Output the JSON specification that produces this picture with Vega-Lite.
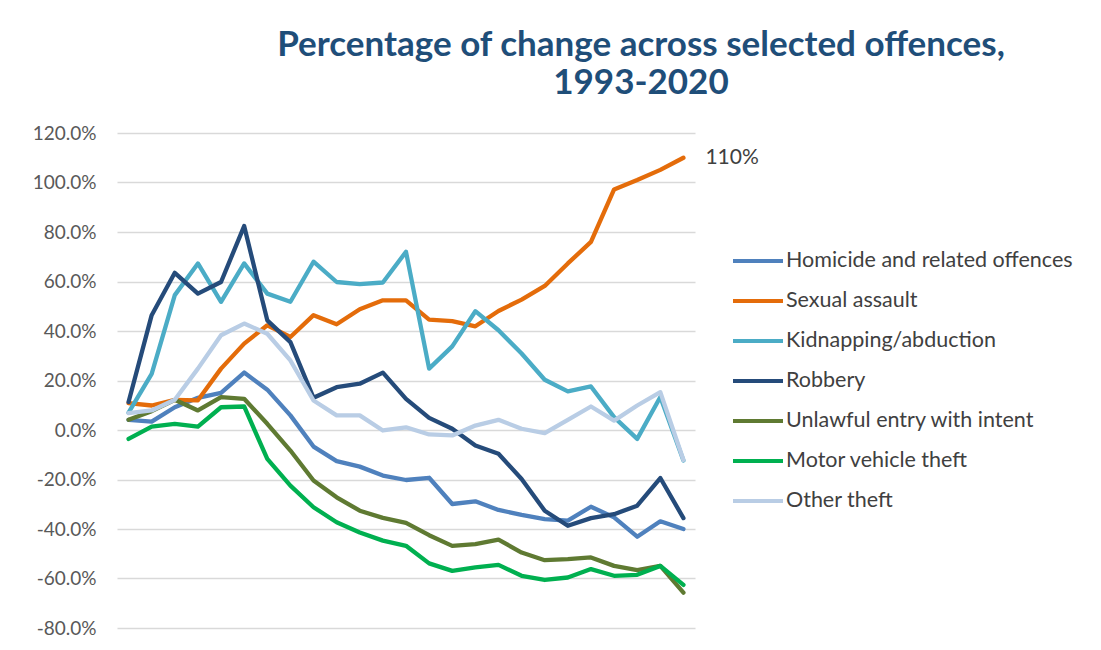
{
 "$schema": "https://vega.github.io/schema/vega-lite/v6.json",
 "width": 578, "height": 495,
 "autosize": {"type": "none"},
 "padding": {"left": 117, "top": 133, "right": 406, "bottom": 22},
 "background": "white",
 "config": {"view": {"stroke": null}, "font": "Lato"},
 "title": {"text": ["Percentage of change across selected offences,", "1993-2020"], "font": "Lato", "fontSize": 35, "fontWeight": "bold", "color": "#1F4E79", "anchor": "middle", "frame": "group", "dx": 235, "offset": 23, "lineHeight": 38},
 "data": {"values": [
{"offence":"Homicide and related offences","year":1996,"change":0.041},
{"offence":"Homicide and related offences","year":1997,"change":0.034},
{"offence":"Homicide and related offences","year":1998,"change":0.092},
{"offence":"Homicide and related offences","year":1999,"change":0.13},
{"offence":"Homicide and related offences","year":2000,"change":0.15},
{"offence":"Homicide and related offences","year":2001,"change":0.232},
{"offence":"Homicide and related offences","year":2002,"change":0.163},
{"offence":"Homicide and related offences","year":2003,"change":0.059},
{"offence":"Homicide and related offences","year":2004,"change":-0.067},
{"offence":"Homicide and related offences","year":2005,"change":-0.126},
{"offence":"Homicide and related offences","year":2006,"change":-0.148},
{"offence":"Homicide and related offences","year":2007,"change":-0.184},
{"offence":"Homicide and related offences","year":2008,"change":-0.202},
{"offence":"Homicide and related offences","year":2009,"change":-0.193},
{"offence":"Homicide and related offences","year":2010,"change":-0.299},
{"offence":"Homicide and related offences","year":2011,"change":-0.288},
{"offence":"Homicide and related offences","year":2012,"change":-0.323},
{"offence":"Homicide and related offences","year":2013,"change":-0.343},
{"offence":"Homicide and related offences","year":2014,"change":-0.36},
{"offence":"Homicide and related offences","year":2015,"change":-0.366},
{"offence":"Homicide and related offences","year":2016,"change":-0.31},
{"offence":"Homicide and related offences","year":2017,"change":-0.353},
{"offence":"Homicide and related offences","year":2018,"change":-0.431},
{"offence":"Homicide and related offences","year":2019,"change":-0.369},
{"offence":"Homicide and related offences","year":2020,"change":-0.40},
{"offence":"Sexual assault","year":1996,"change":0.109},
{"offence":"Sexual assault","year":1997,"change":0.099},
{"offence":"Sexual assault","year":1998,"change":0.122},
{"offence":"Sexual assault","year":1999,"change":0.12},
{"offence":"Sexual assault","year":2000,"change":0.248},
{"offence":"Sexual assault","year":2001,"change":0.349},
{"offence":"Sexual assault","year":2002,"change":0.423},
{"offence":"Sexual assault","year":2003,"change":0.376},
{"offence":"Sexual assault","year":2004,"change":0.464},
{"offence":"Sexual assault","year":2005,"change":0.427},
{"offence":"Sexual assault","year":2006,"change":0.488},
{"offence":"Sexual assault","year":2007,"change":0.524},
{"offence":"Sexual assault","year":2008,"change":0.524},
{"offence":"Sexual assault","year":2009,"change":0.446},
{"offence":"Sexual assault","year":2010,"change":0.44},
{"offence":"Sexual assault","year":2011,"change":0.419},
{"offence":"Sexual assault","year":2012,"change":0.481},
{"offence":"Sexual assault","year":2013,"change":0.527},
{"offence":"Sexual assault","year":2014,"change":0.582},
{"offence":"Sexual assault","year":2015,"change":0.673},
{"offence":"Sexual assault","year":2016,"change":0.76},
{"offence":"Sexual assault","year":2017,"change":0.972},
{"offence":"Sexual assault","year":2018,"change":1.01},
{"offence":"Sexual assault","year":2019,"change":1.051},
{"offence":"Sexual assault","year":2020,"change":1.10},
{"offence":"Kidnapping/abduction","year":1996,"change":0.07},
{"offence":"Kidnapping/abduction","year":1997,"change":0.227},
{"offence":"Kidnapping/abduction","year":1998,"change":0.545},
{"offence":"Kidnapping/abduction","year":1999,"change":0.673},
{"offence":"Kidnapping/abduction","year":2000,"change":0.518},
{"offence":"Kidnapping/abduction","year":2001,"change":0.673},
{"offence":"Kidnapping/abduction","year":2002,"change":0.551},
{"offence":"Kidnapping/abduction","year":2003,"change":0.518},
{"offence":"Kidnapping/abduction","year":2004,"change":0.68},
{"offence":"Kidnapping/abduction","year":2005,"change":0.598},
{"offence":"Kidnapping/abduction","year":2006,"change":0.589},
{"offence":"Kidnapping/abduction","year":2007,"change":0.596},
{"offence":"Kidnapping/abduction","year":2008,"change":0.72},
{"offence":"Kidnapping/abduction","year":2009,"change":0.248},
{"offence":"Kidnapping/abduction","year":2010,"change":0.338},
{"offence":"Kidnapping/abduction","year":2011,"change":0.48},
{"offence":"Kidnapping/abduction","year":2012,"change":0.403},
{"offence":"Kidnapping/abduction","year":2013,"change":0.309},
{"offence":"Kidnapping/abduction","year":2014,"change":0.203},
{"offence":"Kidnapping/abduction","year":2015,"change":0.156},
{"offence":"Kidnapping/abduction","year":2016,"change":0.176},
{"offence":"Kidnapping/abduction","year":2017,"change":0.052},
{"offence":"Kidnapping/abduction","year":2018,"change":-0.036},
{"offence":"Kidnapping/abduction","year":2019,"change":0.133},
{"offence":"Kidnapping/abduction","year":2020,"change":-0.123},
{"offence":"Robbery","year":1996,"change":0.113},
{"offence":"Robbery","year":1997,"change":0.464},
{"offence":"Robbery","year":1998,"change":0.635},
{"offence":"Robbery","year":1999,"change":0.551},
{"offence":"Robbery","year":2000,"change":0.598},
{"offence":"Robbery","year":2001,"change":0.824},
{"offence":"Robbery","year":2002,"change":0.443},
{"offence":"Robbery","year":2003,"change":0.355},
{"offence":"Robbery","year":2004,"change":0.13},
{"offence":"Robbery","year":2005,"change":0.173},
{"offence":"Robbery","year":2006,"change":0.187},
{"offence":"Robbery","year":2007,"change":0.232},
{"offence":"Robbery","year":2008,"change":0.126},
{"offence":"Robbery","year":2009,"change":0.049},
{"offence":"Robbery","year":2010,"change":0.005},
{"offence":"Robbery","year":2011,"change":-0.063},
{"offence":"Robbery","year":2012,"change":-0.096},
{"offence":"Robbery","year":2013,"change":-0.198},
{"offence":"Robbery","year":2014,"change":-0.326},
{"offence":"Robbery","year":2015,"change":-0.387},
{"offence":"Robbery","year":2016,"change":-0.356},
{"offence":"Robbery","year":2017,"change":-0.34},
{"offence":"Robbery","year":2018,"change":-0.306},
{"offence":"Robbery","year":2019,"change":-0.194},
{"offence":"Robbery","year":2020,"change":-0.356},
{"offence":"Unlawful entry with intent","year":1996,"change":0.041},
{"offence":"Unlawful entry with intent","year":1997,"change":0.076},
{"offence":"Unlawful entry with intent","year":1998,"change":0.122},
{"offence":"Unlawful entry with intent","year":1999,"change":0.079},
{"offence":"Unlawful entry with intent","year":2000,"change":0.133},
{"offence":"Unlawful entry with intent","year":2001,"change":0.126},
{"offence":"Unlawful entry with intent","year":2002,"change":0.025},
{"offence":"Unlawful entry with intent","year":2003,"change":-0.083},
{"offence":"Unlawful entry with intent","year":2004,"change":-0.204},
{"offence":"Unlawful entry with intent","year":2005,"change":-0.272},
{"offence":"Unlawful entry with intent","year":2006,"change":-0.326},
{"offence":"Unlawful entry with intent","year":2007,"change":-0.355},
{"offence":"Unlawful entry with intent","year":2008,"change":-0.375},
{"offence":"Unlawful entry with intent","year":2009,"change":-0.425},
{"offence":"Unlawful entry with intent","year":2010,"change":-0.468},
{"offence":"Unlawful entry with intent","year":2011,"change":-0.461},
{"offence":"Unlawful entry with intent","year":2012,"change":-0.443},
{"offence":"Unlawful entry with intent","year":2013,"change":-0.495},
{"offence":"Unlawful entry with intent","year":2014,"change":-0.526},
{"offence":"Unlawful entry with intent","year":2015,"change":-0.522},
{"offence":"Unlawful entry with intent","year":2016,"change":-0.515},
{"offence":"Unlawful entry with intent","year":2017,"change":-0.549},
{"offence":"Unlawful entry with intent","year":2018,"change":-0.566},
{"offence":"Unlawful entry with intent","year":2019,"change":-0.549},
{"offence":"Unlawful entry with intent","year":2020,"change":-0.657},
{"offence":"Motor vehicle theft","year":1996,"change":-0.036},
{"offence":"Motor vehicle theft","year":1997,"change":0.014},
{"offence":"Motor vehicle theft","year":1998,"change":0.025},
{"offence":"Motor vehicle theft","year":1999,"change":0.014},
{"offence":"Motor vehicle theft","year":2000,"change":0.092},
{"offence":"Motor vehicle theft","year":2001,"change":0.095},
{"offence":"Motor vehicle theft","year":2002,"change":-0.117},
{"offence":"Motor vehicle theft","year":2003,"change":-0.225},
{"offence":"Motor vehicle theft","year":2004,"change":-0.312},
{"offence":"Motor vehicle theft","year":2005,"change":-0.373},
{"offence":"Motor vehicle theft","year":2006,"change":-0.414},
{"offence":"Motor vehicle theft","year":2007,"change":-0.447},
{"offence":"Motor vehicle theft","year":2008,"change":-0.468},
{"offence":"Motor vehicle theft","year":2009,"change":-0.539},
{"offence":"Motor vehicle theft","year":2010,"change":-0.569},
{"offence":"Motor vehicle theft","year":2011,"change":-0.555},
{"offence":"Motor vehicle theft","year":2012,"change":-0.545},
{"offence":"Motor vehicle theft","year":2013,"change":-0.589},
{"offence":"Motor vehicle theft","year":2014,"change":-0.606},
{"offence":"Motor vehicle theft","year":2015,"change":-0.596},
{"offence":"Motor vehicle theft","year":2016,"change":-0.562},
{"offence":"Motor vehicle theft","year":2017,"change":-0.589},
{"offence":"Motor vehicle theft","year":2018,"change":-0.585},
{"offence":"Motor vehicle theft","year":2019,"change":-0.549},
{"offence":"Motor vehicle theft","year":2020,"change":-0.626},
{"offence":"Other theft","year":1996,"change":0.068},
{"offence":"Other theft","year":1997,"change":0.079},
{"offence":"Other theft","year":1998,"change":0.122},
{"offence":"Other theft","year":1999,"change":0.248},
{"offence":"Other theft","year":2000,"change":0.383},
{"offence":"Other theft","year":2001,"change":0.43},
{"offence":"Other theft","year":2002,"change":0.389},
{"offence":"Other theft","year":2003,"change":0.281},
{"offence":"Other theft","year":2004,"change":0.119},
{"offence":"Other theft","year":2005,"change":0.059},
{"offence":"Other theft","year":2006,"change":0.059},
{"offence":"Other theft","year":2007,"change":-0.002},
{"offence":"Other theft","year":2008,"change":0.011},
{"offence":"Other theft","year":2009,"change":-0.018},
{"offence":"Other theft","year":2010,"change":-0.022},
{"offence":"Other theft","year":2011,"change":0.018},
{"offence":"Other theft","year":2012,"change":0.041},
{"offence":"Other theft","year":2013,"change":0.005},
{"offence":"Other theft","year":2014,"change":-0.013},
{"offence":"Other theft","year":2015,"change":0.041},
{"offence":"Other theft","year":2016,"change":0.095},
{"offence":"Other theft","year":2017,"change":0.038},
{"offence":"Other theft","year":2018,"change":0.099},
{"offence":"Other theft","year":2019,"change":0.153},
{"offence":"Other theft","year":2020,"change":-0.121}
 ]},
 "layer": [
  {
   "mark": {"type": "line", "strokeWidth": 4.3, "strokeJoin": "round", "strokeCap": "round"},
   "encoding": {
    "x": {"field": "year", "type": "ordinal", "axis": null, "scale": {"padding": 0.5}},
    "y": {"field": "change", "type": "quantitative", "scale": {"domain": [-0.8, 1.2], "nice": false, "zero": false},
          "axis": {"title": null, "values": [-0.8, -0.6, -0.4, -0.2, 0, 0.2, 0.4, 0.6, 0.8, 1.0, 1.2], "format": ".1%", "labelExpr": "replace(datum.label, '\u2212', '-')", "domain": false, "ticks": false, "labelPadding": 21, "labelFontSize": 19, "labelFont": "Lato", "labelColor": "#595959", "gridColor": "#D9D9D9", "gridWidth": 1.5}},
    "color": {"field": "offence", "type": "nominal",
      "scale": {"domain": ["Homicide and related offences", "Sexual assault", "Kidnapping/abduction", "Robbery", "Unlawful entry with intent", "Motor vehicle theft", "Other theft"],
                "range": ["#4F81BD", "#E46C0A", "#4BACC6", "#254B7A", "#5F7A32", "#00B050", "#B9CDE5"]},
      "legend": {"orient": "none", "legendX": 614, "legendY": 101, "title": null, "symbolType": "stroke", "symbolStrokeWidth": 4, "symbolSize": 2500, "labelFontSize": 21.5, "labelFont": "Lato", "labelColor": "#404040", "labelOffset": 1, "rowPadding": 2, "labelLimit": 400}}
   }
  },
  {
   "transform": [{"filter": "datum.offence === 'Sexual assault' && datum.year === 2020"}],
   "mark": {"type": "text", "align": "left", "baseline": "middle", "dx": 22, "fontSize": 21, "font": "Lato", "color": "#404040"},
   "encoding": {
    "x": {"field": "year", "type": "ordinal"},
    "y": {"field": "change", "type": "quantitative"},
    "text": {"field": "change", "type": "quantitative", "format": ".0%"}
   }
  }
 ]
}
